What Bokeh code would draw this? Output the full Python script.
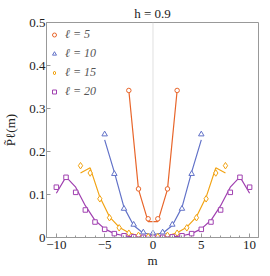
from bokeh.plotting import figure
from bokeh.models import FixedTicker, Span, Legend, LegendItem
from bokeh.embed import file_html
from bokeh.resources import INLINE

# l = 5
m5 = [-2.5, -1.5, -0.5, 0.5, 1.5, 2.5]
data5 = [0.342, 0.113, 0.0435, 0.0435, 0.113, 0.342]
fit5 = [0.342, 0.112, 0.037, 0.037, 0.112, 0.342]

# l = 10
m10 = [-5, -4, -3, -2, -1, 0, 1, 2, 3, 4, 5]
data10 = [0.240, 0.148, 0.067, 0.030, 0.012, 0.010, 0.012, 0.030, 0.067, 0.148, 0.240]
fit10 = [0.227, 0.152, 0.070, 0.028, 0.010, 0.007, 0.010, 0.028, 0.070, 0.152, 0.227]

# l = 15
m15 = [-7.5, -6.5, -5.5, -4.5, -3.5, -2.5, -1.5, -0.5, 0.5, 1.5, 2.5, 3.5, 4.5, 5.5, 6.5, 7.5]
data15 = [0.167, 0.150, 0.090, 0.046, 0.0225, 0.010, 0.005, 0.002,
          0.002, 0.005, 0.010, 0.0225, 0.046, 0.090, 0.150, 0.167]
fit15 = [0.150, 0.162, 0.094, 0.048, 0.024, 0.011, 0.004, 0.002,
         0.002, 0.004, 0.011, 0.024, 0.048, 0.094, 0.162, 0.150]

# l = 20
m20 = [-10, -9, -8, -7, -6, -5, -4, -3, -2, -1, 0, 1, 2, 3, 4, 5, 6, 7, 8, 9, 10]
data20 = [0.117, 0.140, 0.105, 0.064, 0.036, 0.019, 0.009, 0.004, 0.0015, 0.0005, 0.0002,
          0.0005, 0.0015, 0.004, 0.009, 0.019, 0.036, 0.064, 0.105, 0.140, 0.117]
fit20 = [0.103, 0.141, 0.117, 0.074, 0.040, 0.020, 0.009, 0.004, 0.0015, 0.0005, 0.0002,
         0.0005, 0.0015, 0.004, 0.009, 0.020, 0.040, 0.074, 0.117, 0.141, 0.103]

legend_labels = ["ℓ = 5", "ℓ = 10", "ℓ = 15", "ℓ = 20"]
x_ticks = [-10, -5, 0, 5, 10]
y_ticks = [0, 0.1, 0.2, 0.3, 0.4, 0.5]

colors = ["#E8652A", "#6272C8", "#F2A313", "#A040B0"]
markers = ["circle", "triangle", "diamond", "square"]
sizes = [4.5, 5.5, 6.5, 4.5]

SERIF = "'Liberation Serif', 'DejaVu Serif', serif"

p = figure(width=270, height=276, x_range=(-11.02, 10.92), y_range=(0, 0.5),
           output_backend="svg", toolbar_location=None,
           min_border_left=43, min_border_right=12, min_border_top=22, min_border_bottom=39,
           title="h = 0.9")

p.title.align = "center"
p.title.text_font = SERIF
p.title.text_font_size = "13px"
p.title.text_font_style = "normal"
p.title.text_color = "#222222"
p.title.standoff = 3

p.grid.visible = False
p.outline_line_color = "#999999"
p.outline_line_width = 1

p.add_layout(Span(location=0, dimension="height", line_color="#e0e0e0", line_width=1))

series = [(m5, data5, fit5), (m10, data10, fit10), (m15, data15, fit15), (m20, data20, fit20)]
items = []
for (mm, dd, ff), c, mk, sz, lab in zip(series, colors, markers, sizes, legend_labels):
    p.line(mm, ff, line_color=c, line_width=1.2)
    r = p.scatter(mm, dd, marker=mk, size=sz, line_color=c, line_width=1, fill_color="white")
    items.append(LegendItem(label=lab, renderers=[r]))

leg = Legend(items=items, location="top_left")
leg.background_fill_alpha = 0
leg.border_line_alpha = 0
leg.margin = 0
leg.padding = 3
leg.spacing = 0
leg.glyph_width = 10
leg.glyph_height = 19
leg.label_height = 19
leg.label_standoff = 6
leg.label_text_font = SERIF
leg.label_text_font_style = "italic"
leg.label_text_font_size = "12px"
leg.label_text_color = "#555555"
p.add_layout(leg)

for ax in (p.xaxis[0], p.yaxis[0]):
    ax.axis_line_color = "#999999"
    ax.major_tick_line_color = "#999999"
    ax.minor_tick_line_color = "#999999"
    ax.major_tick_in = 4
    ax.major_tick_out = 0
    ax.minor_tick_in = 2
    ax.minor_tick_out = 0
    ax.major_label_text_font = SERIF
    ax.major_label_text_font_size = "13px"
    ax.major_label_text_color = "#222222"
    ax.axis_label_text_font = SERIF
    ax.axis_label_text_font_size = "13px"
    ax.axis_label_text_font_style = "normal"
    ax.axis_label_text_color = "#222222"

p.xaxis.ticker = FixedTicker(ticks=x_ticks, minor_ticks=list(range(-11, 12)))
p.xaxis.major_label_overrides = {-10: "−10", -5: "−5"}
p.xaxis.major_label_standoff = 3
p.xaxis.axis_label = "m"
p.xaxis.axis_label_standoff = 1

p.yaxis.ticker = FixedTicker(ticks=y_ticks)
p.yaxis.major_label_overrides = {0: "0"}
p.yaxis.major_label_standoff = 1
p.yaxis.axis_label = "P̃ℓ(m)"
p.yaxis.axis_label_standoff = 8

open("out.html", "w").write(file_html(p, INLINE))
